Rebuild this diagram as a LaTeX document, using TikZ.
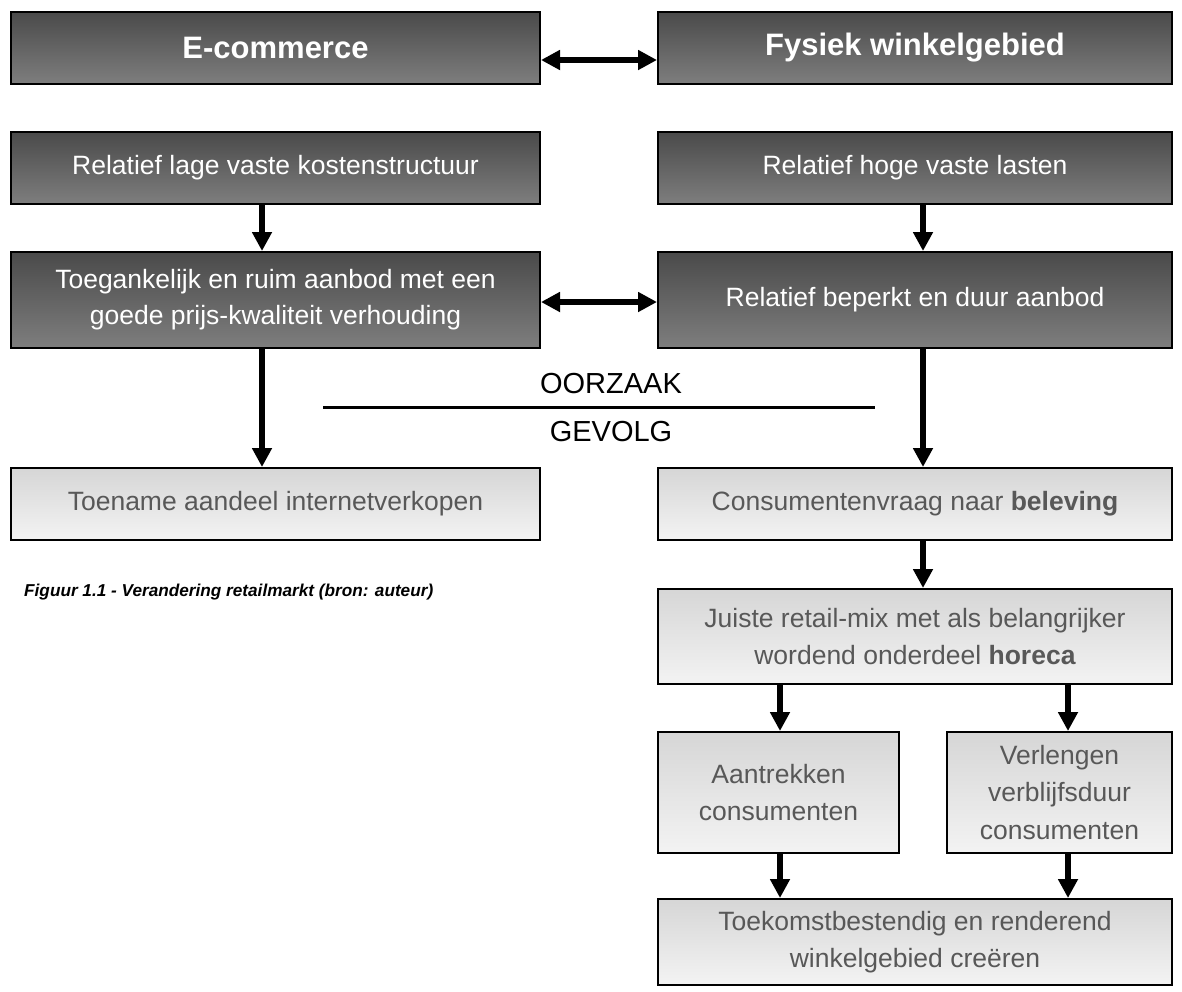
\documentclass[tikz,border=0pt]{standalone}
\usepackage{fontspec}
\setmainfont{Liberation Sans}
\usetikzlibrary{arrows.meta,calc,shadings}
\definecolor{dtop}{HTML}{4A4A4A}
\definecolor{dbot}{HTML}{7E7E7E}
\definecolor{ltop}{HTML}{D6D6D6}
\definecolor{lbot}{HTML}{F3F3F3}
\definecolor{ltext}{HTML}{585858}
\begin{document}
\begin{tikzpicture}[x=1pt,y=-1pt,
  box/.style={draw=black,line width=2pt,inner sep=0pt,align=center},
  dark/.style={box,top color=dtop,bottom color=dbot,text=white,font=\fontsize{26.5}{36}\selectfont},
  title/.style={dark,font=\fontsize{31}{36}\selectfont\bfseries},
  light/.style={box,top color=ltop,bottom color=lbot,text=ltext,font=\fontsize{26.5}{37.5}\selectfont},
  arr/.style={line width=6pt,-{Triangle[length=19pt,width=19pt]}},
  dbl/.style={line width=6pt,{Triangle[length=19pt,width=19pt]}-{Triangle[length=19pt,width=19pt]}},
  lbl/.style={font=\fontsize{29}{34}\selectfont,inner sep=0pt}]
\useasboundingbox (0,0) rectangle (1182,991);

\node[title,minimum width=529,minimum height=72] (ecom) at (275.5,48) {E-commerce};
\node[title,minimum width=514,minimum height=72] (fys) at (915,48) {Fysiek winkelgebied};
\node[dark,minimum width=529,minimum height=72] (lage) at (275.5,168) {Relatief lage vaste kostenstructuur};
\node[dark,minimum width=514,minimum height=72] (hoge) at (915,168) {Relatief hoge vaste lasten};
\node[dark,minimum width=529,minimum height=96] (toeg) at (275.5,300) {Toegankelijk en ruim aanbod met een\\goede prijs-kwaliteit verhouding};
\node[dark,minimum width=514,minimum height=96] (bep) at (915,300) {Relatief beperkt en duur aanbod};
\node[light,minimum width=529,minimum height=72] (toen) at (275.5,504) {Toename aandeel internetverkopen};
\node[light,minimum width=514,minimum height=72] (cons) at (915,504) {Consumentenvraag naar \textbf{beleving}};
\node[light,minimum width=514,minimum height=95] (juist) at (915,636.5) {Juiste retail-mix met als belangrijker\\wordend onderdeel \textbf{horeca}};
\node[light,minimum width=241,minimum height=121] (aan) at (778.5,792.5) {Aantrekken\\consumenten};
\node[light,minimum width=225,minimum height=121] (ver) at (1059.5,792.5) {Verlengen\\verblijfsduur\\consumenten};
\node[light,minimum width=514,minimum height=86] (toek) at (915,942) {Toekomstbestendig en renderend\\winkelgebied creëren};

\node[anchor=west,inner sep=0pt,font=\fontsize{17.2}{20}\selectfont\bfseries\itshape] (cap) at (24,592) {Figuur 1.1 - Verandering retailmarkt (bron: auteur)};

\node[lbl] (oorz) at (611,384) {OORZAAK};
\node[lbl] (gev) at (611,432) {GEVOLG};
\coordinate (l1) at (323,407);
\coordinate (l2) at (875,407);
\draw[line width=3pt] (l1) -- (l2);

\coordinate (xl) at (262,0);
\coordinate (xr) at (923,0);
\coordinate (xa) at (780,0);
\coordinate (xv) at (1068,0);
\coordinate (y1) at (0,60);
\coordinate (y3) at (0,302);

\draw[dbl] (ecom.east |- y1) -- (fys.west |- y1);
\draw[dbl] (toeg.east |- y3) -- (bep.west |- y3);
\draw[arr] (lage.south -| xl) -- (toeg.north -| xl);
\draw[arr] (hoge.south -| xr) -- (bep.north -| xr);
\draw[arr] (toeg.south -| xl) -- (toen.north -| xl);
\draw[arr] (bep.south -| xr) -- (cons.north -| xr);
\draw[arr] (cons.south -| xr) -- (juist.north -| xr);
\draw[arr] (juist.south -| xa) -- (aan.north -| xa);
\draw[arr] (juist.south -| xv) -- (ver.north -| xv);
\draw[arr] (aan.south -| xa) -- (toek.north -| xa);
\draw[arr] (ver.south -| xv) -- (toek.north -| xv);
\end{tikzpicture}
\end{document}
